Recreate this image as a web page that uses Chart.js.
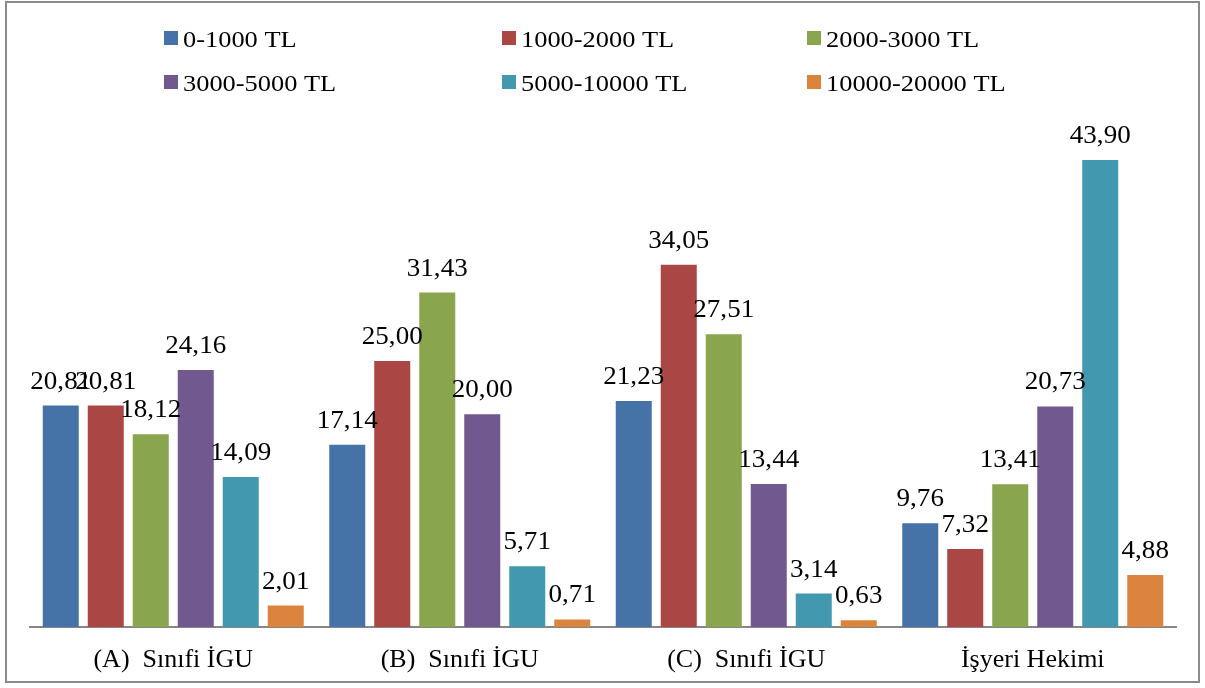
<!DOCTYPE html>
<html>
<head>
<meta charset="utf-8">
<script src="https://cdn.jsdelivr.net/npm/chart.js@4"></script>
<style>
  html, body { margin: 0; padding: 0; background: #fff; }
  #wrap { width: 1205px; height: 688px; position: relative; }
</style>
</head>
<body>
<div id="wrap"><canvas id="c" width="1205" height="688"></canvas></div>
<script>
// Categories (x axis)
const categories = ['(A)  Sınıfi İGU', '(B)  Sınıfi İGU', '(C)  Sınıfi İGU', 'İşyeri Hekimi'];

// Series labels (income bands)
const seriesLabels = ['0-1000 TL', '1000-2000 TL', '2000-3000 TL', '3000-5000 TL', '5000-10000 TL', '10000-20000 TL'];

// Series values (%)
const band0_1000 = [20.81, 17.14, 21.23, 9.76];
const band1000_2000 = [20.81, 25.00, 34.05, 7.32];
const band2000_3000 = [18.12, 31.43, 27.51, 13.41];
const band3000_5000 = [24.16, 20.00, 13.44, 20.73];
const band5000_10000 = [14.09, 5.71, 3.14, 43.90];
const band10000_20000 = [2.01, 0.71, 0.63, 4.88];

const seriesValues = [band0_1000, band1000_2000, band2000_3000, band3000_5000, band5000_10000, band10000_20000];
const colors = ['#4572A7', '#AA4643', '#89A54E', '#71588F', '#4198AF', '#DB843D'];

const SERIF = '"Liberation Serif", "Times New Roman", serif';

function fmt(v) { return v.toFixed(2).replace('.', ','); }

function stretchedText(ctx, text, x, y, sx) {
  ctx.save();
  ctx.translate(x, y);
  ctx.scale(sx, 1);
  ctx.fillText(text, 0, 0);
  ctx.restore();
}

// Outer frame around the whole chart
const framePlugin = {
  id: 'frame',
  afterDraw(chart) {
    const ctx = chart.ctx;
    ctx.save();
    ctx.strokeStyle = '#8a8a8a';
    ctx.lineWidth = 2;
    ctx.strokeRect(6, 2, 1193, 680);
    ctx.restore();
  }
};

// Legend laid out in two rows of three columns
const gridLegendPlugin = {
  id: 'gridLegend',
  afterDraw(chart) {
    const ctx = chart.ctx;
    const colX = [164, 502, 807];
    const rowY = [38, 82];
    ctx.save();
    ctx.font = '24px ' + SERIF;
    ctx.textAlign = 'left';
    ctx.textBaseline = 'alphabetic';
    chart.data.datasets.forEach((ds, i) => {
      const cx = colX[i % 3];
      const cy = rowY[Math.floor(i / 3)];
      ctx.fillStyle = ds.backgroundColor;
      ctx.fillRect(cx, cy - 7, 14, 14);
      ctx.fillStyle = '#000';
      stretchedText(ctx, ds.label, cx + 19, cy + 9, 1.1);
    });
    ctx.restore();
  }
};

// Value labels above each bar and category labels under the axis
const labelsPlugin = {
  id: 'barLabels',
  afterDatasetsDraw(chart) {
    const ctx = chart.ctx;
    ctx.save();
    ctx.fillStyle = '#000';
    ctx.textAlign = 'center';
    ctx.textBaseline = 'alphabetic';
    ctx.font = '26px ' + SERIF;
    chart.data.datasets.forEach((ds, di) => {
      const meta = chart.getDatasetMeta(di);
      meta.data.forEach((bar, i) => {
        stretchedText(ctx, fmt(ds.data[i]), bar.x, bar.y - 17, 1.04);
      });
    });
    const xs = chart.scales.x;
    ctx.font = '26px ' + SERIF;
    chart.data.labels.forEach((lab, i) => {
      stretchedText(ctx, lab, xs.getPixelForValue(i), chart.chartArea.bottom + 40, 1.0);
    });
    ctx.restore();
  }
};

new Chart(document.getElementById('c'), {
  type: 'bar',
  data: {
    labels: categories,
    datasets: seriesLabels.map((label, i) => ({
      label: label,
      data: seriesValues[i],
      backgroundColor: colors[i],
      borderWidth: 0,
      categoryPercentage: 0.9424,
      barPercentage: 0.8
    }))
  },
  options: {
    responsive: false,
    devicePixelRatio: 1,
    animation: false,
    layout: { padding: { top: 95, left: 30, right: 29, bottom: 61 } },
    plugins: {
      legend: { display: false },
      tooltip: { enabled: false }
    },
    scales: {
      x: {
        display: true,
        grid: { color: 'transparent', drawTicks: false },
        border: { display: true, color: '#868686', width: 2 },
        ticks: { display: false }
      },
      y: {
        display: false,
        min: 0,
        max: 50
      }
    }
  },
  plugins: [framePlugin, gridLegendPlugin, labelsPlugin]
});
</script>
</body>
</html>
